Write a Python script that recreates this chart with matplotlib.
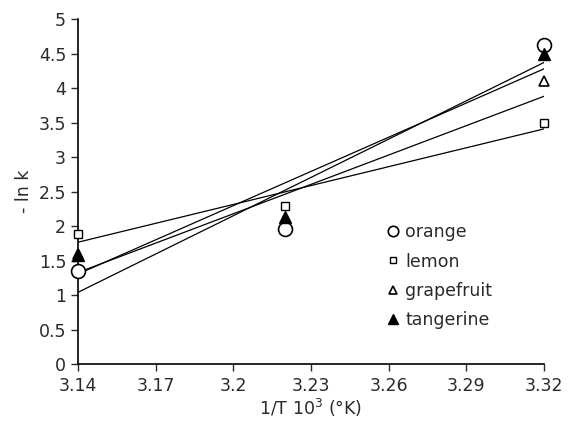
import numpy as np
import matplotlib
matplotlib.use("Agg")
import matplotlib.pyplot as plt

# inverse temperature (x 10^3) and -ln k per fruit
inv_temp = [3.14, 3.22, 3.32]
orange = [1.35, 1.96, 4.62]
lemon = [1.88, 2.29, 3.5]
grapefruit = [1.6, 1.97, 4.1]
tangerine = [1.58, 2.13, 4.5]

x_ticks = [3.14, 3.17, 3.2, 3.23, 3.26, 3.29, 3.32]
y_ticks = [0, 0.5, 1, 1.5, 2, 2.5, 3, 3.5, 4, 4.5, 5]

plt.rcParams["font.family"] = ["DejaVu Sans"]
text_color = "#2a2a2a"

fig = plt.figure(figsize=(5.69, 4.25), dpi=100)
ax = fig.add_axes([0.137, 0.1435, 0.819, 0.8115])

series = {
    "orange": (orange, dict(marker="o", markersize=10, mfc="white", mec="black", mew=1.2)),
    "lemon": (lemon, dict(marker="s", markersize=6, mfc="white", mec="black", mew=1.0)),
    "grapefruit": (grapefruit, dict(marker="^", markersize=7.5, mfc="white", mec="black", mew=1.2)),
    "tangerine": (tangerine, dict(marker="^", markersize=9, mfc="black", mec="black", mew=1.0)),
}

x = np.array(inv_temp)
for name, (vals, style) in series.items():
    slope, intercept = np.polyfit(x, vals, 1)
    ax.plot(x[[0, -1]], slope * x[[0, -1]] + intercept, color="black", lw=0.9, zorder=2)

# draw order so hidden points sit underneath, legend order kept below
handles = {}
for z, name in enumerate(["grapefruit", "orange", "tangerine", "lemon"]):
    vals, style = series[name]
    (h,) = ax.plot(inv_temp, vals, linestyle="none", label=name, zorder=3 + z,
                   clip_on=False, **style)
    handles[name] = h

ax.set_xlim(3.14, 3.32)
ax.set_ylim(0, 5)
ax.set_xticks(x_ticks)
ax.set_xticklabels([f"{t:g}" for t in x_ticks])
ax.set_yticks(y_ticks)
ax.set_yticklabels([f"{t:g}" for t in y_ticks])
for side in ["top", "right"]:
    ax.spines[side].set_visible(False)
for side in ["left", "bottom"]:
    ax.spines[side].set_linewidth(1.2)
ax.tick_params(direction="out", length=5, width=1, labelsize=12.5, colors=text_color)
ax.tick_params(axis="x", pad=4)

ax.set_xlabel("1/T 10$^3$ (°K)", fontsize=12.5, color=text_color, labelpad=2)
ax.set_ylabel("- ln k", fontsize=12.5, color=text_color, labelpad=4)

names = list(series.keys())
leg = ax.legend([handles[n] for n in names], names, loc="lower left",
                bbox_to_anchor=(0.62, 0.055), frameon=False,
                fontsize=12.5, handletextpad=0.1, labelspacing=0.66, markerscale=0.75,
                handlelength=1.2)
for t in leg.get_texts():
    t.set_color(text_color)

fig.savefig("out.png", dpi=100)
